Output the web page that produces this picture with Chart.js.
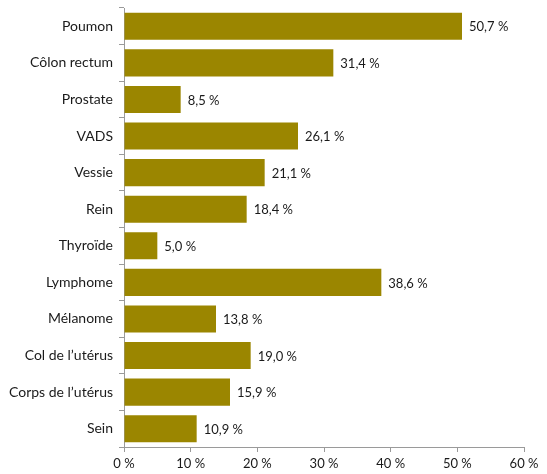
<!DOCTYPE html>
<html><head><meta charset="utf-8">
<script src="https://cdn.jsdelivr.net/npm/chart.js@4/dist/chart.umd.min.js"></script>
<style>html,body{margin:0;padding:0;background:#fff}#w{width:547px;height:474px}</style>
</head><body><div id="w"><canvas id="c"></canvas></div>
<script>
const categories = ["Poumon","Côlon rectum","Prostate","VADS","Vessie","Rein","Thyroïde","Lymphome","Mélanome","Col de l’utérus","Corps de l’utérus","Sein"];
const values = [50.7,31.4,8.5,26.1,21.1,18.4,5.0,38.6,13.8,19.0,15.9,10.9];
const xTicks = [0,10,20,30,40,50,60];
const FONT = "Lato, 'Open Sans', sans-serif";
const fmt = v => v.toFixed(1).replace('.', ',') + ' %';
const labelPlugin = {
  id:'vlabels',
  afterDatasetsDraw(chart){
    const ctx = chart.ctx;
    const meta = chart.getDatasetMeta(0);
    ctx.save();
    ctx.font = "13px " + FONT;
    ctx.fillStyle = '#1a1a1a';
    ctx.textAlign = 'left';
    ctx.textBaseline = 'middle';
    meta.data.forEach((el,i)=>{
      ctx.fillText(fmt(values[i]), el.x + 7, el.y + 1);
    });
    ctx.restore();
  }
};
new Chart(document.getElementById('c'),{
  type:'bar',
  data:{labels:categories,datasets:[{data:values,backgroundColor:'#9B8600',barPercentage:0.74,categoryPercentage:1}]},
  options:{
    indexAxis:'y',responsive:true,maintainAspectRatio:false,animation:false,
    layout:{padding:{top:8,right:23,left:0,bottom:0}},
    plugins:{legend:{display:false},tooltip:{enabled:false}},
    scales:{
      x:{min:0,max:60,
        afterBuildTicks(s){s.ticks = xTicks.map(v=>({value:v}));},
        afterFit(s){s.height = 27;},
        grid:{drawOnChartArea:false,drawTicks:true,tickLength:5,color:'#9a9a9a'},
        border:{color:'#9a9a9a'},
        ticks:{color:'#1a1a1a',font:{family:FONT,size:13},padding:4,callback:v=>v+' %',maxRotation:0}
      },
      y:{
        afterFit(s){s.width = 124; s.paddingTop = 0; s.paddingBottom = 0;},
        grid:{drawOnChartArea:false,drawTicks:true,tickLength:5,color:'#9a9a9a',offset:true},
        border:{color:'#9a9a9a'},
        ticks:{color:'#1a1a1a',font:{family:FONT,size:14},padding:6}
      }
    }
  },
  plugins:[labelPlugin]
});
</script></body></html>
